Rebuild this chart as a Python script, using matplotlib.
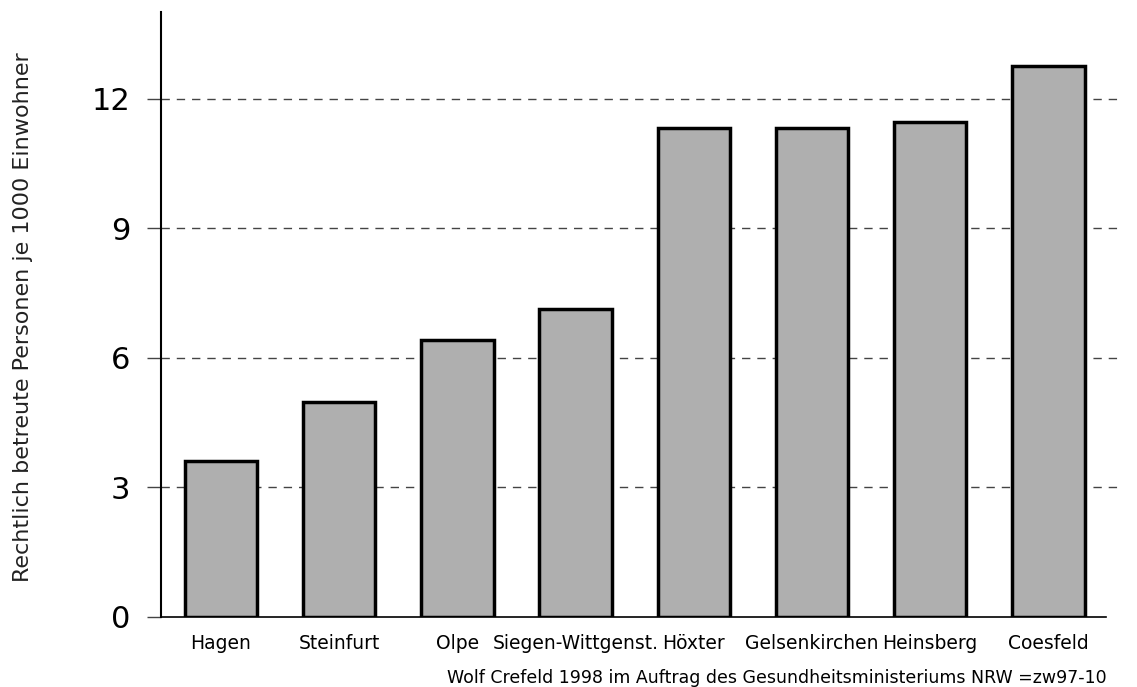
import matplotlib
matplotlib.use("Agg")
import matplotlib.pyplot as plt

categories = ["Hagen", "Steinfurt", "Olpe", "Siegen-Wittgenst.", "Höxter",
              "Gelsenkirchen", "Heinsberg", "Coesfeld"]
values = [3.62, 4.97, 6.42, 7.13, 11.33, 11.33, 11.46, 12.76]
yticks = [0, 3, 6, 9, 12]
ylabel = "Rechtlich betreute Personen je 1000 Einwohner"
footer = "Wolf Crefeld 1998 im Auftrag des Gesundheitsministeriums NRW =zw97-10"

plt.rcParams['font.family'] = ['DejaVu Sans']

W, H = 1137, 687
fig = plt.figure(figsize=(W / 100, H / 100), dpi=100)
left_px, right_px, top_px, bottom_px = 160.7, 1120, 12.3, 617
ax = fig.add_axes([left_px / W, (H - bottom_px) / H,
                   (right_px - left_px) / W, (bottom_px - top_px) / H])

x = list(range(len(categories)))
ax.bar(x, values, width=0.613, color="#afafaf", edgecolor="black",
       linewidth=2.5, zorder=3)

ax.set_xlim(-0.51, 7.606)
ax.set_ylim(0, 14)
ax.set_yticks(yticks)
ax.set_yticklabels([str(t) for t in yticks])
ax.set_xticks(x)
ax.set_xticklabels(categories)

for s in ["top", "right"]:
    ax.spines[s].set_visible(False)
ax.spines["left"].set_linewidth(1.5)
ax.spines["bottom"].set_linewidth(1.2)
ax.spines["bottom"].set_bounds(-0.51, 7.49)

ax.set_axisbelow(True)
for t in yticks[1:]:
    ax.axhline(t, color="#444444", linewidth=1, linestyle=(0, (6, 5)), zorder=1)
ax.tick_params(axis="y", direction="out", length=10, width=1, color="#444444",
               pad=12, labelsize=22)
ax.tick_params(axis="x", length=0, pad=12, labelsize=13.5)

fig.text(23 / W, (H - 317) / H, ylabel, rotation=90, ha="center", va="center",
         fontsize=16, color="#222222")
fig.text(1106.7 / W, (H - 683) / H, footer, ha="right", va="baseline",
         fontsize=12.5)

fig.savefig("out.png", dpi=100)
